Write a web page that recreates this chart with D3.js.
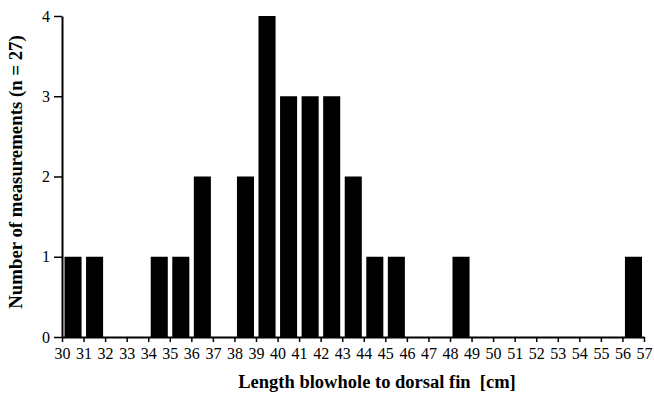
<!DOCTYPE html>
<html>
<head>
<meta charset="utf-8">
<script src="https://cdn.jsdelivr.net/npm/d3@7"></script>
<style>
  body { margin: 0; background: #fff; }
  svg text { font-family: "Liberation Serif", "Times New Roman", serif; fill: #000; }
</style>
</head>
<body>
<div id="chart"></div>
<script>
// bins (left edge, cm) and counts
var bins = [30, 31, 32, 33, 34, 35, 36, 37, 38, 39, 40, 41, 42, 43,
            44, 45, 46, 47, 48, 49, 50, 51, 52, 53, 54, 55, 56];
var counts = [1, 1, 0, 0, 1, 1, 2, 0, 2, 4, 3, 3, 3, 2,
              1, 1, 0, 0, 1, 0, 0, 0, 0, 0, 0, 0, 1];
var xTicks = d3.range(30, 58);
var yTicks = [0, 1, 2, 3, 4];

var xLabel = "Length blowhole to dorsal fin  [cm]";
var yLabel = "Number of measurements (n = 27)";

var W = 654, H = 397;
var margin = { top: 16, right: 10, bottom: 60, left: 62 };

var svg = d3.select("#chart").append("svg")
  .attr("width", W)
  .attr("height", H);

var x = d3.scaleLinear().domain([30, 57]).range([margin.left, 644]);
var y = d3.scaleLinear().domain([0, 4]).range([H - margin.bottom, margin.top]);

// bars
svg.append("g")
  .selectAll("rect")
  .data(bins.map(function (b, i) { return { bin: b, n: counts[i] }; })
    .filter(function (d) { return d.n > 0; }))
  .join("rect")
  .attr("x", function (d) { return x(d.bin) + 2.5; })
  .attr("width", function (d) { return x(d.bin + 1) - x(d.bin) - 4.5; })
  .attr("y", function (d) { return y(d.n); })
  .attr("height", function (d) { return y(0) - y(d.n); })
  .attr("fill", "#000");

// x axis
var xAxis = svg.append("g")
  .attr("transform", "translate(0," + y(0) + ")")
  .call(d3.axisBottom(x).tickValues(xTicks).tickFormat(d3.format("d"))
    .tickSize(5).tickSizeOuter(0).tickPadding(6));

// y axis
var yAxis = svg.append("g")
  .attr("transform", "translate(" + x(30) + ",0)")
  .call(d3.axisLeft(y).tickValues(yTicks).tickFormat(d3.format("d"))
    .tickSize(8).tickSizeOuter(0).tickPadding(4));

[xAxis, yAxis].forEach(function (g) {
  g.attr("font-family", null).attr("font-size", null);
  g.select(".domain").attr("stroke", "#000").attr("stroke-width", 2);
  g.selectAll(".tick line").attr("stroke", "#000").attr("stroke-width", 1.5);
  g.selectAll(".tick text")
    .style("font-family", '"Liberation Serif", "Times New Roman", serif')
    .style("font-size", "16px")
    .attr("fill", "#000");
});

// axis titles
svg.append("text")
  .attr("x", 377)
  .attr("y", 388)
  .attr("text-anchor", "middle")
  .style("font-size", "18.5px")
  .style("font-weight", "bold")
  .style("white-space", "pre")
  .attr("xml:space", "preserve")
  .text(xLabel);

svg.append("text")
  .attr("transform", "translate(22," + 172 + ") rotate(-90)")
  .attr("text-anchor", "middle")
  .style("font-size", "18.8px")
  .style("font-weight", "bold")
  .text(yLabel);
</script>
</body>
</html>
